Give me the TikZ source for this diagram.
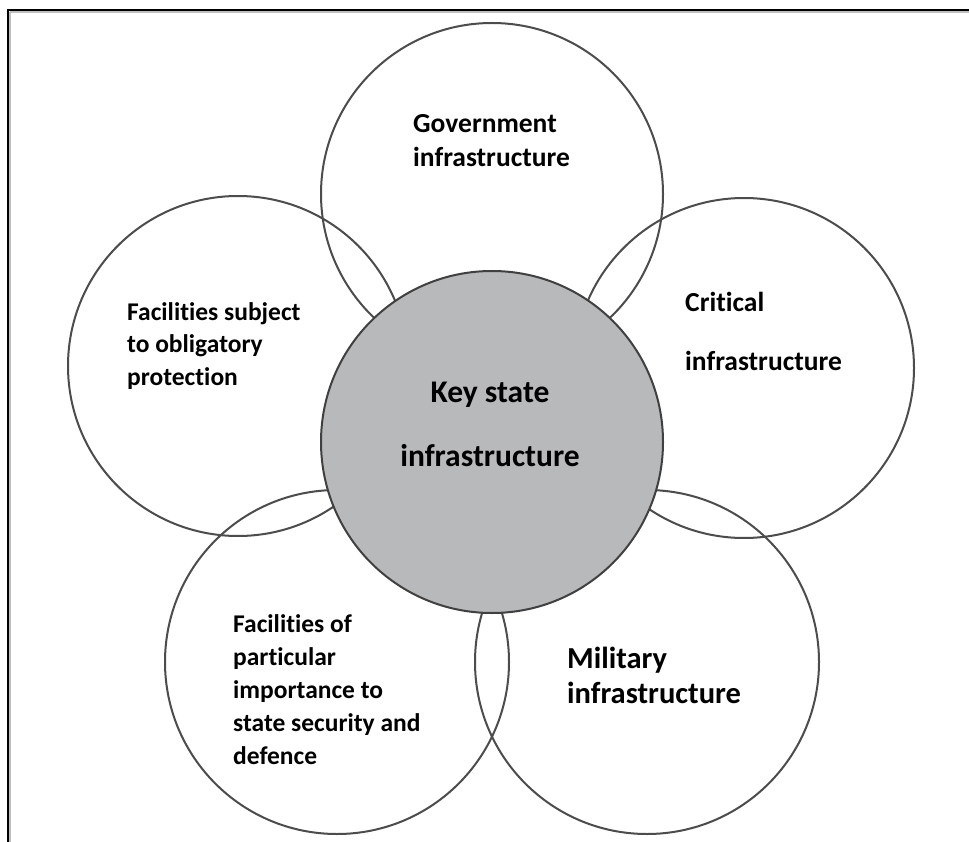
\documentclass[tikz,border=0pt]{standalone}
\usepackage{fontspec}
\setmainfont{Carlito}[Ligatures=NoCommon]
\begin{document}
\begin{tikzpicture}[x=1pt,y=-1pt,
  ring/.style={circle, draw=black!70, line width=2pt, inner sep=0pt},
  keyring/.style={circle, draw=black!75, line width=2pt, fill=keygray, inner sep=0pt},
  lbl/.style={anchor=base west, inner sep=0pt, font=\bfseries\fontsize{25.5}{30}\selectfont},
  lblb/.style={anchor=base west, inner sep=0pt, font=\bfseries\fontsize{27.5}{32}\selectfont},
  big/.style={anchor=base, inner sep=0pt, font=\bfseries\fontsize{31.5}{36}\selectfont},
  mil/.style={anchor=base west, inner sep=0pt, font=\bfseries\fontsize{30.5}{35}\selectfont}]
\definecolor{keygray}{RGB}{184,185,187}
\useasboundingbox (0,0) rectangle (969,842);
\fill[white] (0,0) rectangle (969,842);
% frame (top and left edges)
\draw[black!25, line width=1.5pt] (10,12) -- (969,12);
\draw[black!25, line width=1.5pt] (10,12) -- (10,842);
\draw[black, line width=2.2pt] (8,10) -- (969,10);
\draw[black, line width=2.2pt] (8,9) -- (8,842);
% outer circles
\node[ring, minimum size=342pt] (gov) at (492,194) {};
\node[ring, minimum size=340pt] (fsub) at (238,366) {};
\node[ring, minimum size=340pt] (crit) at (744,368) {};
\node[ring, minimum size=344pt] (fpart) at (337,662) {};
\node[ring, minimum size=344pt] (milc) at (647,662) {};
% central circle
\node[keyring, minimum size=342pt] (key) at (492,442) {};
% labels
\node[lblb] (gov1) at (413,133) {Government};
\node[lblb] (gov2) at (413,167) {infrastructure};
\node[lbl] (fs1) at (127,320) {Facilities subject};
\node[lbl] (fs2) at (127,352) {to obligatory};
\node[lbl] (fs3) at (127,385) {protection};
\node[lblb] (cr1) at (685,312) {Critical};
\node[lblb] (cr2) at (685,370) {infrastructure};
\node[big] (key1) at (490,402) {Key state};
\node[big] (key2) at (490,466) {infrastructure};
\node[lbl] (fp1) at (233,632) {Facilities of};
\node[lbl] (fp2) at (233,665) {particular};
\node[lbl] (fp3) at (233,698) {importance to};
\node[lbl] (fp4) at (233,731) {state security and};
\node[lbl] (fp5) at (233,764) {defence};
\node[mil] (mi1) at (567,668) {Military};
\node[mil] (mi2) at (567,703) {infrastructure};
\end{tikzpicture}
\end{document}
